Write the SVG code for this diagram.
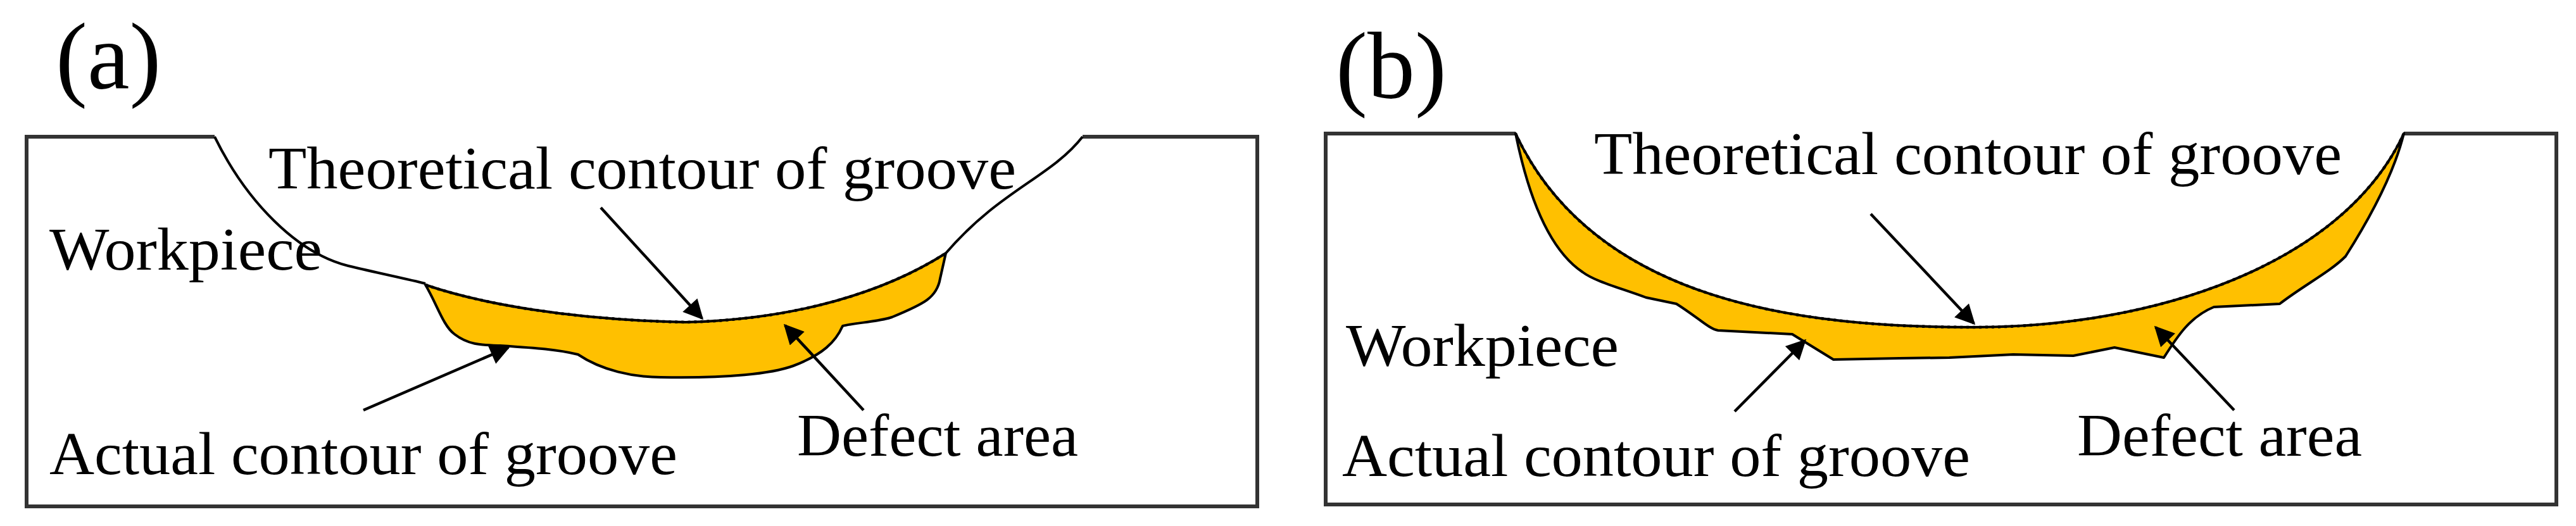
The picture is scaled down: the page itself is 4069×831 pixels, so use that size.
<svg xmlns="http://www.w3.org/2000/svg" width="4069" height="831" viewBox="0 0 4069 831">
<defs>
<marker id="ah" viewBox="0 0 10 10" refX="9" refY="5" markerWidth="14" markerHeight="7" markerUnits="strokeWidth" orient="auto"><path d="M0,0 L10,5 L0,10 z" fill="#000"/></marker>
<style>
text{font-family:"Liberation Serif","Times New Roman","DejaVu Serif",serif;fill:#000}
.t{font-size:96px}
.lab{font-size:150px}
.box{fill:none;stroke:#333;stroke-width:6}
.wall{fill:none;stroke:#000;stroke-width:4}
.def{fill:#FFC000;stroke:#000;stroke-width:4;stroke-linejoin:round}
.dot{fill:none;stroke:#000;stroke-width:4.5;stroke-dasharray:4 6}
.ar{stroke:#000;stroke-width:4.5;fill:none;marker-end:url(#ah)}
</style>
</defs>
<rect width="4069" height="831" fill="#fff"/>
<g id="panel-a">
<text class="lab" font-family="Liberation Serif, serif" x="88" y="140">(a)</text>
<path class="box" d="M339,216 L42,216 L42,800 L1986,800 L1986,216 L1710,216"/>
<path class="wall" d="M339,216 C390,320 470,400 550,420 C600,432 640,440 672,448"/>
<path class="wall" d="M1494,400 C1580,300 1660,280 1710,216"/>
<path class="def" d="M672,450 C690,480 700,515 718,528 C740,545 760,545 790,546 C850,550 880,552 913,560 C950,585 1000,596 1044,596 C1150,598 1220,590 1253,578 C1300,560 1320,540 1331,515 C1350,510 1390,508 1409,501 C1460,480 1480,470 1485,440 L1494,400 C1400,460 1260,505 1083,509 C900,505 760,480 672,450 Z"/>
<path class="dot" d="M672,450 C760,480 900,505 1083,509 C1260,505 1400,460 1494,400"/>
<text class="t" font-family="Liberation Serif, serif" x="424" y="298" textLength="1181" lengthAdjust="spacingAndGlyphs">Theoretical contour of groove</text>
<text class="t" font-family="Liberation Serif, serif" x="78" y="426" textLength="431" lengthAdjust="spacingAndGlyphs">Workpiece</text>
<text class="t" font-family="Liberation Serif, serif" x="78" y="749" textLength="992" lengthAdjust="spacingAndGlyphs">Actual contour of groove</text>
<text class="t" font-family="Liberation Serif, serif" x="1259" y="720" textLength="444" lengthAdjust="spacingAndGlyphs">Defect area</text>
</g>
<g id="panel-b">
<text class="lab" font-family="Liberation Serif, serif" x="2110" y="155">(b)</text>
<path class="box" d="M2394,211 L2094,211 L2094,797 L4038,797 L4038,211 L3797,211"/>
<path class="def" d="M2394,211 C2410,290 2440,390 2500,430 C2520,445 2560,455 2600,470 L2648,480 C2680,500 2700,520 2714,522 L2831,528 L2896,568 L3000,566 L3079,565 L3180,560 L3275,562 L3340,549 L3418,565 C3440,530 3460,500 3497,485 L3601,480 C3640,450 3680,430 3705,405 C3740,350 3780,280 3797,211 C3700,420 3400,517 3118,517 C2850,517 2520,480 2394,211 Z"/>
<path class="dot" d="M2394,211 C2520,480 2850,517 3118,517 C3400,517 3700,420 3797,211"/>
<text class="t" font-family="Liberation Serif, serif" x="2518" y="275" textLength="1181" lengthAdjust="spacingAndGlyphs">Theoretical contour of groove</text>
<text class="t" font-family="Liberation Serif, serif" x="2126" y="578" textLength="431" lengthAdjust="spacingAndGlyphs">Workpiece</text>
<text class="t" font-family="Liberation Serif, serif" x="2120" y="752" textLength="992" lengthAdjust="spacingAndGlyphs">Actual contour of groove</text>
<text class="t" font-family="Liberation Serif, serif" x="3281" y="720" textLength="450" lengthAdjust="spacingAndGlyphs">Defect area</text>
</g>
<g id="connectors">
<line class="ar" x1="949" y1="328" x2="1109" y2="503"/>
<line class="ar" x1="574" y1="648" x2="803" y2="549"/>
<line class="ar" x1="1364" y1="648" x2="1240" y2="514"/>
<line class="ar" x1="2955" y1="338" x2="3118" y2="511"/>
<line class="ar" x1="2740" y1="650" x2="2851" y2="538"/>
<line class="ar" x1="3529" y1="648" x2="3405" y2="517"/>
</g>
</svg>
